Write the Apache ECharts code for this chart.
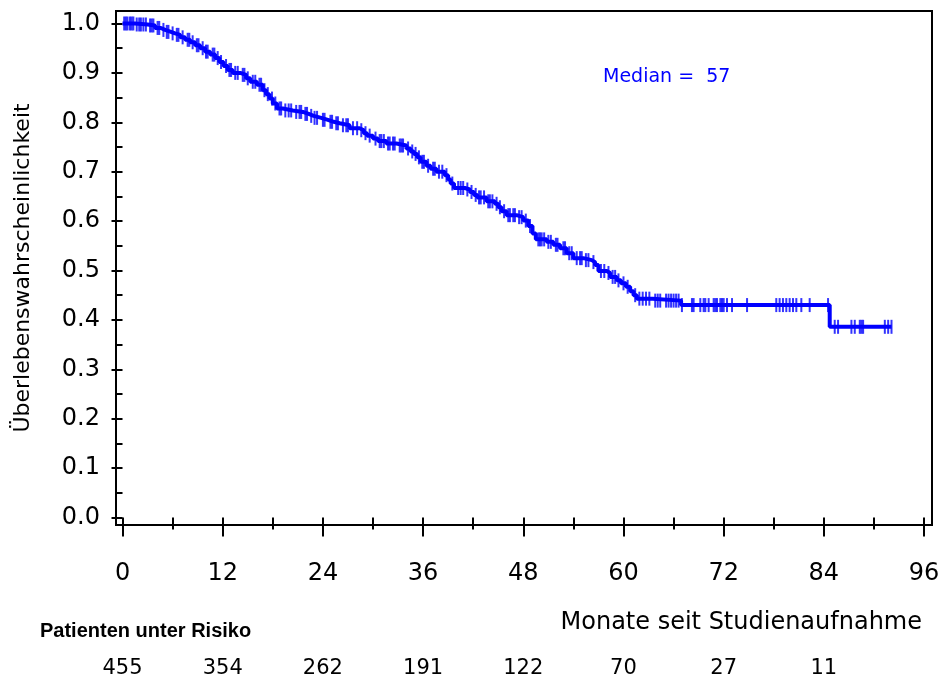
<!DOCTYPE html>
<html>
<head>
<meta charset="utf-8">
<script src="https://cdn.jsdelivr.net/npm/echarts@6/dist/echarts.min.js"></script>
<style>
  html, body { margin: 0; padding: 0; background: #fff; }
  #chart { width: 941px; height: 678px; }
</style>
</head>
<body>
<div id="chart"></div>
<script>
// Kaplan-Meier estimate: event times (months) and survival right after each event
const eventMonths = [
  0, 1.5, 3.0, 3.9, 4.6, 5.1, 5.8, 6.3, 6.9, 7.5, 8.1, 8.7, 9.3, 9.9, 10.5, 11.1, 11.6,
  12.1, 12.6, 13.2, 14.1, 14.8, 15.3, 16.1, 16.8, 17.2, 17.6, 18.0, 18.5, 19.2, 20.4,
  21.6, 22.3, 22.9, 23.8, 24.6, 25.3, 26.0, 27.2, 28.4, 28.9, 29.3, 30.0, 30.6, 31.6,
  32.8, 34.0, 34.5, 34.9, 35.3, 35.7, 36.4, 36.9, 37.6, 38.6, 39.0, 39.3, 39.7, 41.0,
  41.6, 42.1, 42.5, 43.6, 44.6, 45.0, 45.4, 46.0, 47.2, 48.0, 48.6, 49.1, 49.5, 50.8,
  51.6, 52.4, 53.2, 54.0, 55.2, 56.2, 56.6, 57.0, 58.0, 58.4, 59.2, 59.7, 60.3, 60.8,
  61.2, 61.6, 63.5, 66.9, 84.7
];
const survival = [
  1.000, 0.998, 0.996, 0.991, 0.987, 0.983, 0.980, 0.977, 0.972, 0.967, 0.962, 0.956, 0.950, 0.943, 0.937, 0.930, 0.922,
  0.914, 0.906, 0.900, 0.896, 0.889, 0.882, 0.876, 0.865, 0.857, 0.848, 0.838, 0.828, 0.824, 0.821,
  0.817, 0.813, 0.809, 0.805, 0.801, 0.798, 0.794, 0.788, 0.784, 0.778, 0.773, 0.767, 0.762, 0.757,
  0.753, 0.747, 0.741, 0.736, 0.729, 0.720, 0.712, 0.706, 0.700, 0.693, 0.684, 0.676, 0.667, 0.664,
  0.659, 0.653, 0.648, 0.640, 0.635, 0.628, 0.620, 0.612, 0.608, 0.601, 0.590, 0.575, 0.563, 0.558,
  0.552, 0.545, 0.535, 0.525, 0.521, 0.517, 0.511, 0.499, 0.495, 0.487, 0.480, 0.474, 0.467, 0.458,
  0.450, 0.443, 0.439, 0.430, 0.386
];
// last follow-up time of the cohort
const lastFollowUp = 92.1;

// censored observations (months)
const censorMonths = [
  0.2, 0.4, 0.6, 0.9, 1.1, 1.3, 1.7, 2.0, 2.2, 2.5, 2.8, 3.3, 3.5, 3.7, 4.2, 4.4, 4.9, 5.3,
  5.5, 6.0, 6.5, 6.7, 7.2, 7.8, 8.0, 8.4, 8.9, 9.1, 9.6, 10.0, 10.2, 10.8, 11.0, 11.4, 11.8,
  12.4, 12.8, 13.0, 13.5, 13.8, 14.4, 14.6, 15.0, 15.6, 15.9, 16.4, 16.6, 17.0, 17.4, 17.9,
  18.3, 18.8, 19.0, 19.5, 19.9, 20.2, 20.8, 21.2, 21.4, 21.9, 22.1, 22.6, 23.0, 23.3, 24.0,
  24.2, 24.9, 25.1, 25.6, 25.8, 26.4, 26.8, 27.0, 27.6, 28.1, 28.6, 29.1, 29.6, 30.3, 30.8,
  31.0, 31.3, 31.8, 32.0, 32.4, 32.6, 33.2, 33.4, 33.6, 34.2, 34.7, 35.1, 35.5, 35.9, 36.1,
  36.6, 37.2, 37.4, 37.9, 38.3, 38.8, 39.5, 40.2, 40.5, 40.8, 41.3, 41.8, 42.3, 42.7, 42.9,
  43.3, 43.8, 44.0, 44.3, 44.8, 45.2, 45.7, 46.2, 46.4, 46.8, 47.0, 47.5, 47.8, 48.3, 48.8,
  49.8, 50.0, 50.2, 50.5, 51.0, 51.3, 51.9, 52.1, 52.8, 53.0, 53.5, 53.8, 54.4, 54.8, 55.0,
  55.5, 55.8, 56.4, 57.3, 57.7, 58.2, 58.7, 59.0, 59.4, 60.0, 60.5, 61.4, 61.9, 62.3, 62.7,
  63.1, 63.8, 64.1, 64.4, 65.1, 65.4, 65.7, 66.0, 66.3, 66.6, 67.0, 68.2, 68.4, 69.2, 69.6,
  69.8, 70.2, 70.8, 71.0, 71.2, 71.6, 71.8, 72.0, 72.4, 73.0, 74.8, 78.3, 78.7, 79.1, 79.5,
  79.9, 80.3, 80.7, 81.3, 82.3, 84.5, 85.3, 85.7, 87.3, 87.7, 88.3, 88.5, 88.7, 91.3, 91.7, 92.1
];

const medianMonths = 57;

// x-axis ticks and the number at risk below them
const xTickMonths = [0, 12, 24, 36, 48, 60, 72, 84, 96];
const xMinorMonths = [6, 18, 30, 42, 54, 66, 78, 90];
const yTickValues = [0, 0.1, 0.2, 0.3, 0.4, 0.5, 0.6, 0.7, 0.8, 0.9, 1.0];
const yMinorValues = [0.05, 0.15, 0.25, 0.35, 0.45, 0.55, 0.65, 0.75, 0.85, 0.95];
const atRiskMonths = [0, 12, 24, 36, 48, 60, 72, 84];
const atRiskCounts = [455, 354, 262, 191, 122, 70, 27, 11];

const BLUE = '#0000ff';
const FONT = 'DejaVu Sans';

// survival value in effect at time t (right-continuous step function)
function survAt(t) {
  let s = survival[0];
  for (let i = 0; i < eventMonths.length; i++) {
    if (eventMonths[i] <= t) s = survival[i]; else break;
  }
  return s;
}

const curve = eventMonths.map((t, i) => [t, survival[i]]);
curve.push([lastFollowUp, survAt(lastFollowUp)]);
const censors = censorMonths.map(t => [t, survAt(t)]);

const X_MIN = -0.78, X_MAX = 96.95;
const Y_MIN = -0.0152, Y_MAX = 1.0253;

const chart = echarts.init(document.getElementById('chart'), null, { renderer: 'canvas' });

const baseX = {
  type: 'value', min: X_MIN, max: X_MAX, position: 'bottom',
  axisLine: { show: false }, splitLine: { show: false }
};
const baseY = {
  type: 'value', min: Y_MIN, max: Y_MAX, position: 'left',
  axisLine: { show: false }, splitLine: { show: false }
};

chart.setOption({
  animation: false,
  backgroundColor: '#ffffff',
  grid: {
    left: 116, top: 11, right: 9, bottom: 153,
    outerBoundsMode: 'none', containLabel: false,
    show: true, borderColor: '#000', borderWidth: 2, backgroundColor: 'transparent'
  },
  xAxis: [
    Object.assign({}, baseX, {
      axisTick: { show: true, inside: false, length: 19, customValues: xTickMonths,
        lineStyle: { color: '#000', width: 2 } },
      axisLabel: { show: true, customValues: xTickMonths, margin: 37,
        color: '#000', fontFamily: FONT, fontSize: 24 }
    }),
    Object.assign({}, baseX, {
      axisTick: { show: true, length: 12, customValues: xMinorMonths,
        lineStyle: { color: '#000', width: 2 } },
      axisLabel: { show: false }
    }),
    Object.assign({}, baseX, {
      offset: 131,
      axisTick: { show: false },
      axisLabel: { show: true, customValues: atRiskMonths, margin: 2,
        color: '#000', fontFamily: FONT, fontSize: 21,
        formatter: v => {
          const i = atRiskMonths.findIndex(m => Math.abs(m - v) < 1e-6);
          return i >= 0 ? String(atRiskCounts[i]) : '';
        } }
    })
  ],
  yAxis: [
    Object.assign({}, baseY, {
      name: 'Überlebenswahrscheinlichkeit',
      nameLocation: 'middle', nameGap: 82, nameRotate: 90,
      nameTextStyle: { color: '#000', fontFamily: FONT, fontSize: 22 },
      axisTick: { show: true, length: 11, customValues: yTickValues,
        lineStyle: { color: '#000', width: 2 } },
      axisLabel: { show: true, customValues: yTickValues, margin: 16,
        color: '#000', fontFamily: FONT, fontSize: 24,
        formatter: v => v.toFixed(1) }
    }),
    Object.assign({}, baseY, {
      axisTick: { show: true, length: 6, customValues: yMinorValues,
        lineStyle: { color: '#000', width: 2 } },
      axisLabel: { show: false }
    })
  ],
  series: [
    {
      type: 'line', xAxisIndex: 0, yAxisIndex: 0,
      step: 'end', showSymbol: false, symbol: 'none',
      data: curve,
      lineStyle: { color: BLUE, width: 4 },
      z: 3
    },
    {
      type: 'scatter', xAxisIndex: 0, yAxisIndex: 0,
      symbol: 'rect', symbolSize: [2, 14],
      data: censors,
      itemStyle: { color: BLUE, opacity: 0.8 },
      z: 4
    }
  ],
  graphic: [
    {
      type: 'text', left: 603, top: 68,
      style: { text: 'Median =  ' + medianMonths, fill: BLUE, font: '19px "DejaVu Sans"' }
    },
    {
      type: 'text', right: 19, top: 611,
      style: { text: 'Monate seit Studienaufnahme', fill: '#000', font: '24px "DejaVu Sans"' }
    },
    {
      type: 'text', left: 40, top: 621,
      style: { text: 'Patienten unter Risiko', fill: '#000', font: 'bold 20px "Liberation Sans"' }
    }
  ]
});
</script>
</body>
</html>
